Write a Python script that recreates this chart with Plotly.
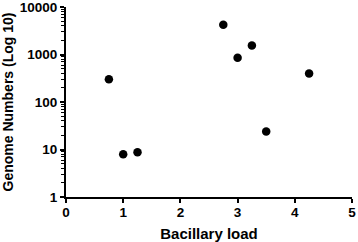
import plotly.graph_objects as go

bacillary_load = [0.75, 1.0, 1.25, 2.75, 3.0, 3.25, 3.5, 4.25]
genome_numbers = [300, 7.9, 8.8, 4250, 850, 1550, 24, 400]
y_tick_vals = [1, 10, 100, 1000, 10000]
y_tick_text = ["1", "10", "100", "1000", "10000"]
x_tick_vals = [0, 1, 2, 3, 4, 5]

fig = go.Figure(go.Scatter(
    x=bacillary_load, y=genome_numbers, mode="markers",
    marker=dict(color="black", size=8.5), cliponaxis=False,
))

font = dict(family="Liberation Sans, Arial, sans-serif", color="black")
fig.update_layout(
    width=358, height=242,
    margin=dict(l=66, r=6, t=7, b=45),
    plot_bgcolor="white", paper_bgcolor="white",
    showlegend=False,
    font=font,
)
fig.update_xaxes(
    range=[0, 5], tickvals=x_tick_vals, automargin=False,
    showgrid=False, zeroline=False,
    showline=True, linecolor="black", linewidth=2,
    ticks="outside", ticklen=4, tickwidth=2, tickcolor="black",
    ticklabeloverflow="allow", ticklabelstandoff=-2,
    tickfont=dict(size=13.5, family="Liberation Sans", weight="bold"),
    title=dict(text="<b>Bacillary load</b>", font=dict(size=15)),
)
fig.update_yaxes(
    type="log", range=[0, 4], tickvals=y_tick_vals, ticktext=y_tick_text, automargin=False,
    showgrid=False, zeroline=False,
    showline=True, linecolor="black", linewidth=2,
    ticks="outside", ticklen=4, tickwidth=2, tickcolor="black",
    ticklabeloverflow="allow",
    minor=dict(ticks="outside", ticklen=3, tickwidth=1, tickcolor="black", showgrid=False, dtick="D1"),
    tickfont=dict(size=13.5, family="Liberation Sans", weight="bold"),
    title=dict(text="<b>Genome Numbers (Log 10)</b>", font=dict(size=14)),
)
fig.write_html("out.html", config={"displayModeBar": False},
               post_script="document.body.style.margin='0';")
